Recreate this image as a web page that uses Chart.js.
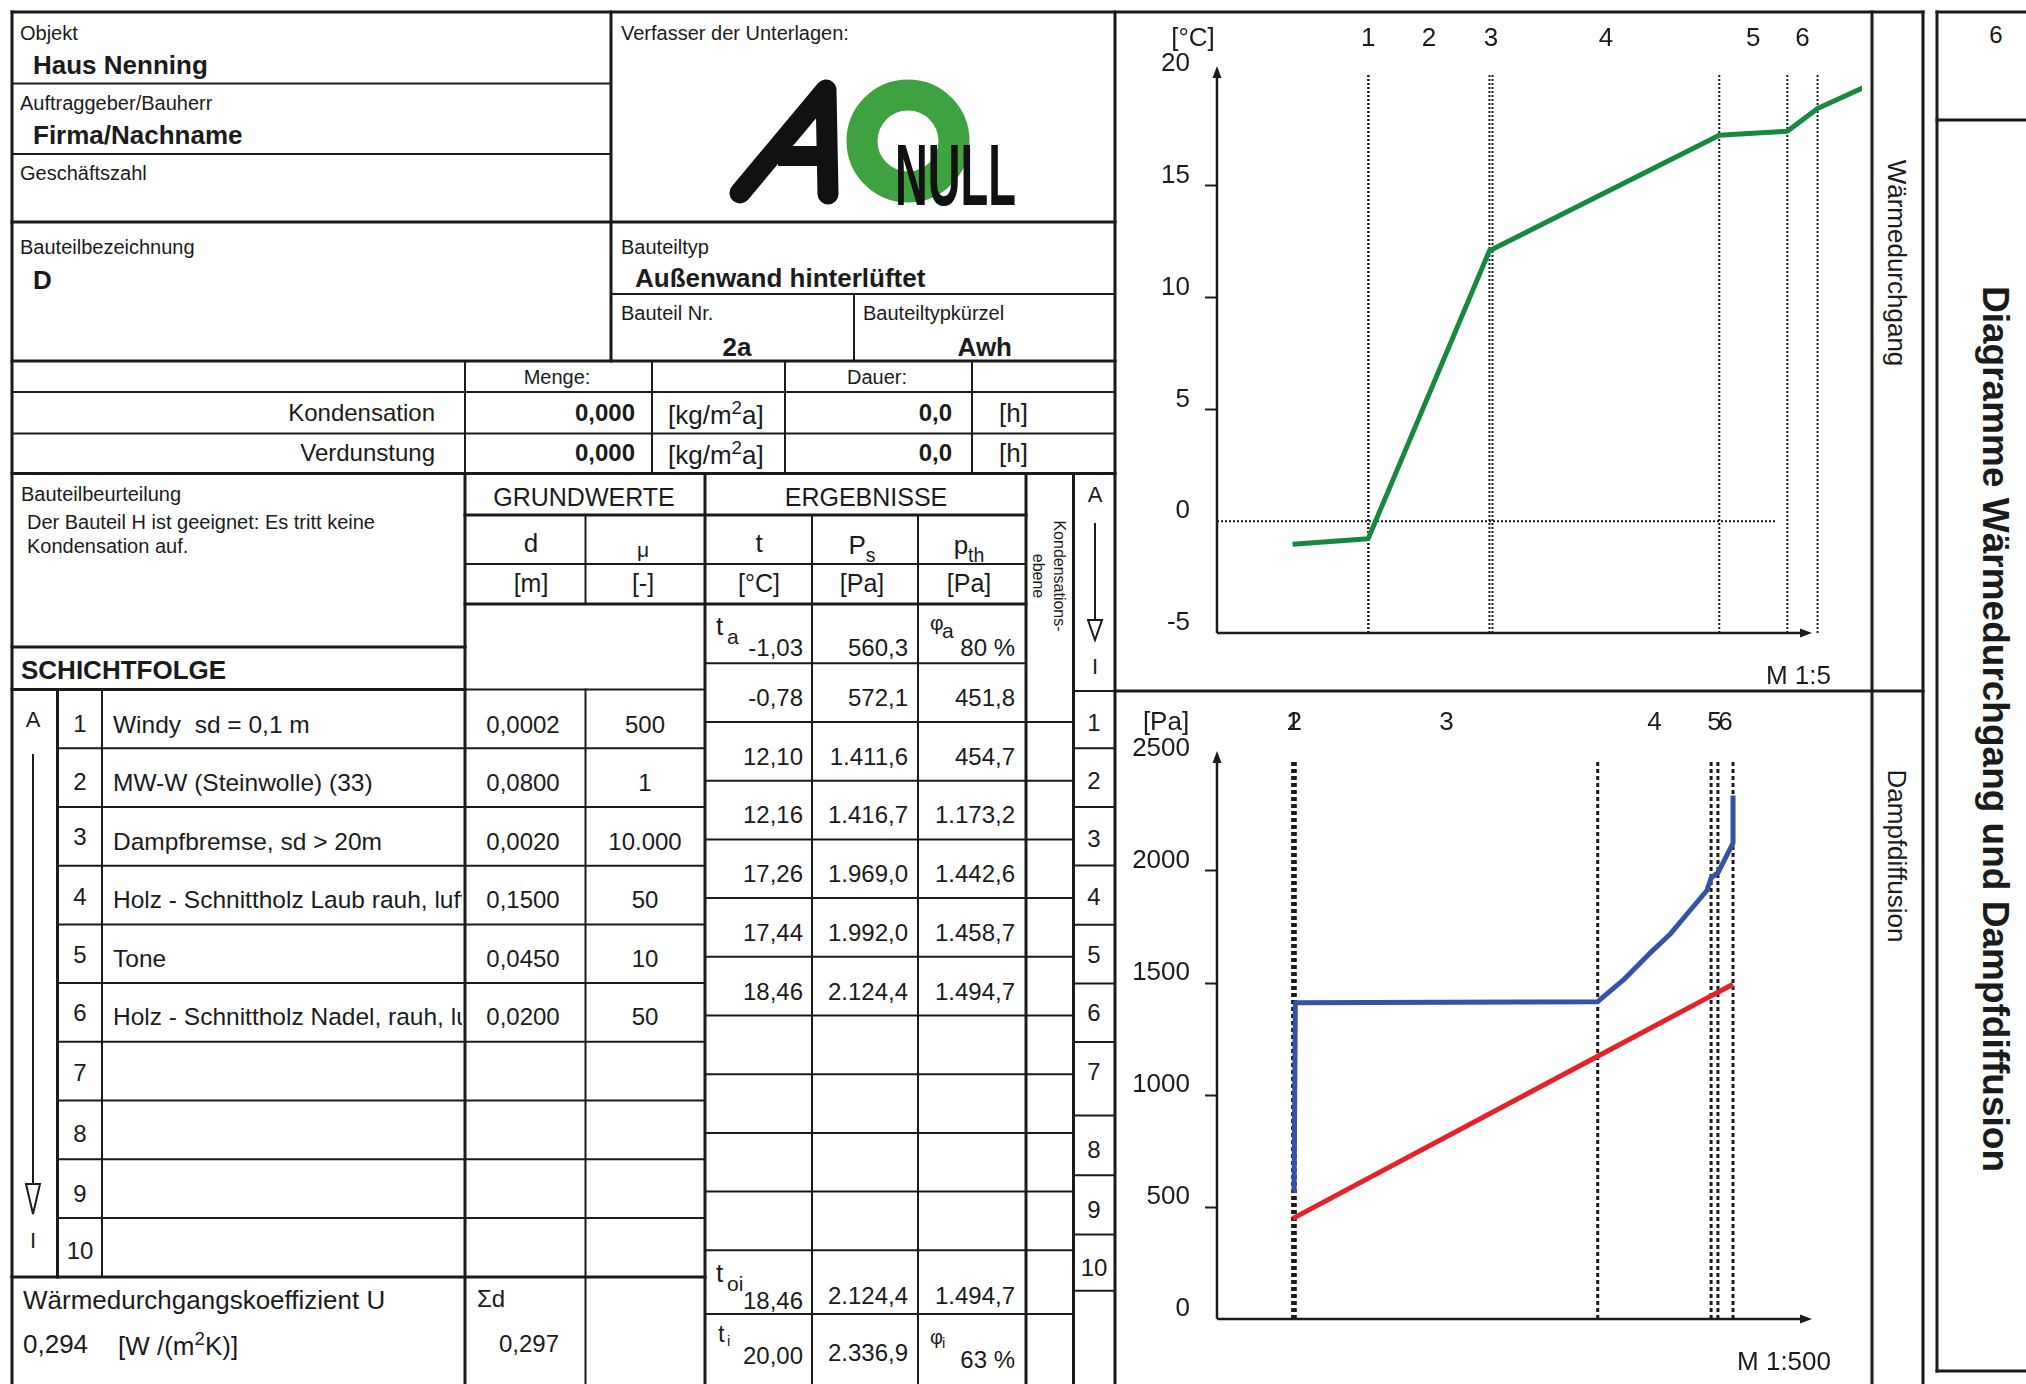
<!DOCTYPE html>
<html>
<head>
<meta charset="utf-8">
<script src="https://cdn.jsdelivr.net/npm/chart.js@4.4.1/dist/chart.umd.min.js"></script>
<style>
  html, body { margin: 0; padding: 0; background: #fff; }
  body { width: 2026px; height: 1384px; position: relative; overflow: hidden;
         font-family: "Liberation Sans", Arial, sans-serif; color: #1b1b1b; }
  .t { position: absolute; white-space: nowrap; line-height: 1; }
  .t sup { font-size: 0.72em; position: relative; top: -0.55em; vertical-align: baseline; }
  canvas { position: absolute; }
  #lines { position: absolute; left: 0; top: 0; }
</style>
</head>
<body>
<svg id="lines" width="2026" height="1384"></svg>
<canvas id="tempChart" width="756" height="678" style="left:1116px;top:13px"></canvas>
<canvas id="vapChart" width="756" height="693" style="left:1116px;top:691px"></canvas>
<script>
// layers, outside -> inside
const layerNo = [1, 2, 3, 4, 5, 6];
const layerName = [
  "Windy&nbsp;&nbsp;sd = 0,1 m",
  "MW-W (Steinwolle) (33)",
  "Dampfbremse, sd &gt; 20m",
  "Holz - Schnittholz Laub rauh, lufttrocken",
  "Tone",
  "Holz - Schnittholz Nadel, rauh, lufttrocken"
];
const layerD = [0.0002, 0.0800, 0.0020, 0.1500, 0.0450, 0.0200];   // [m]
const layerMu = [500, 1, 10000, 50, 10, 50];                       // [-]

// results at the layer ends
const tRow = [-0.78, 12.10, 12.16, 17.26, 17.44, 18.46];            // [°C]
const psRow = [572.1, 1411.6, 1416.7, 1969.0, 1992.0, 2124.4];      // [Pa]
const pthRow = [451.8, 454.7, 1173.2, 1442.6, 1458.7, 1494.7];      // [Pa]

// air outside / inside
const tA = -1.03, psA = 560.3, phiA = 80, pA = 448.2;
const tOi = 18.46, psOi = 2124.4, pthOi = 1494.7;
const tI = 20.00, psI = 2336.9, phiI = 63;
const uValue = 0.294, sumD = 0.297;

// saturation curve inside layer 4 (sd [m], Ps [Pa])
const psCurveSd = [21.9, 23.6, 25.0, 26.2, 27.4];
const psCurvePa = [1515, 1631, 1720, 1817, 1913];

const airLayer = 0.05;      // drawn width of the air layers in the temperature plot [m]
const zeroLineEnd = 0.27;   // dotted 0 °C line ends here [m]

const ink = "#1b1b1b";
const green = "#16883f", blue = "#3553a6", red = "#e5222b";
Chart.defaults.font.family = '"Liberation Sans", Arial, sans-serif';

function de(v, dec) {
  const s = Math.abs(v).toFixed(dec).split(".");
  s[0] = s[0].replace(/\B(?=(\d{3})+(?!\d))/g, ".");
  return (v < 0 ? "-" : "") + s.join(",");
}

// ---------- form lines ----------
const L = [];
const h = (x1, x2, y, w = 2) => L.push([x1, y, x2, y, w]);
const v = (x, y1, y2, w = 2) => L.push([x, y1, x, y2, w]);

h(12, 1923, 12, 3); v(12, 12, 1384, 3); v(611, 12, 361, 3); v(1115, 12, 1384, 3);
h(12, 611, 83.5); h(12, 611, 154); h(12, 1115, 222, 3); h(611, 1115, 294); v(854, 294, 361);
h(12, 1115, 361, 3); h(12, 1115, 392); h(12, 1115, 433.5); h(12, 1115, 473.5, 3);
v(465, 361, 473.5); v(652, 361, 473.5); v(785, 361, 473.5); v(972, 361, 473.5);
v(465, 473.5, 1384, 3); h(12, 465, 647, 3); h(12, 465, 689.5, 3);
v(57.5, 689.5, 1277, 3); v(102, 689.5, 1277);
for (let k = 1; k <= 9; k++) h(57.5, 705, 689.5 + k * 58.72);
h(12, 705, 1277, 3);
v(585.5, 515, 604); v(585.5, 689.5, 1384); v(705, 473.5, 1384, 3);
h(465, 1026, 515, 3); h(465, 1026, 564); h(465, 1026, 604, 3); h(465, 705, 689.5);
v(812, 515, 1384); v(918, 515, 1384); v(1026, 473.5, 1384, 3); v(1073.5, 473.5, 1384, 3);
h(705, 1026, 663.3);
for (let k = 1; k <= 10; k++) h(705, 1073.5, 663.3 + k * 58.7);
h(705, 1073.5, 1314);
h(1073.5, 1115, 691);
[748.3, 807, 865.4, 924.7, 983.5, 1042, 1115.6, 1175.3, 1234.6, 1290.7].forEach(y => h(1073.5, 1115, y));
h(1115, 1923, 691, 3); v(1872, 12, 1384, 3); v(1923, 12, 1384, 3);
v(1937, 12, 1371, 3); h(1937, 2030, 12, 3); h(1937, 2030, 120, 3); h(1937, 2030, 1371, 3);

let svg = L.map(([x1, y1, x2, y2, w]) =>
  `<line x1="${x1}" y1="${y1}" x2="${x2}" y2="${y2}" stroke="${ink}" stroke-width="${w}" stroke-linecap="square"/>`).join("");
// direction arrows A -> I
svg += `<line x1="33" y1="754" x2="33" y2="1184" stroke="${ink}" stroke-width="2"/>
<polygon points="26,1184 40,1184 33,1214" fill="#fff" stroke="${ink}" stroke-width="2"/>
<line x1="1095" y1="523" x2="1095" y2="620" stroke="${ink}" stroke-width="2"/>
<polygon points="1088,620 1102,620 1095,640" fill="#fff" stroke="${ink}" stroke-width="2"/>`;
// logo
svg += `<circle cx="908" cy="141" r="46" fill="none" stroke="#3da23f" stroke-width="31"/>
<polyline points="740,193 826,90 828,194" fill="none" stroke="#111" stroke-width="21" stroke-linecap="round" stroke-linejoin="round"/>
<line x1="778" y1="156" x2="828" y2="156" stroke="#111" stroke-width="20"/>
<text x="895" y="205" font-family="Liberation Sans, Arial" font-weight="bold" font-size="88" textLength="121" lengthAdjust="spacingAndGlyphs" fill="#111">NULL</text>`;
document.getElementById("lines").innerHTML = svg;

// ---------- form texts ----------
function txt(s, x, y, size, o = {}) {
  const d = document.createElement("div");
  d.className = "t";
  const ax = o.a === "r" ? "-100%" : o.a === "c" ? "-50%" : "0";
  d.style.cssText = `left:${x}px;top:${y}px;font-size:${size}px;font-weight:${o.b ? "bold" : "normal"};` +
    `transform:translate(${ax},-50%);` + (o.css || "");
  d.innerHTML = s;
  document.body.appendChild(d);
}
function rot(s, cx, cy, size, o = {}) {
  const d = document.createElement("div");
  d.className = "t";
  d.style.cssText = `left:${cx}px;top:${cy}px;font-size:${size}px;font-weight:${o.b ? "bold" : "normal"};` +
    `transform:translate(-50%,-50%) rotate(90deg);text-align:center;` + (o.css || "");
  d.innerHTML = s;
  document.body.appendChild(d);
}

txt("Objekt", 20, 33, 20);
txt("Haus Nenning", 33, 65, 26, { b: 1 });
txt("Auftraggeber/Bauherr", 20, 103, 20);
txt("Firma/Nachname", 33, 135, 26, { b: 1 });
txt("Geschäftszahl", 20, 173, 20);
txt("Bauteilbezeichnung", 20, 247, 20);
txt("D", 33, 280, 26, { b: 1 });
txt("Verfasser der Unterlagen:", 621, 33, 20);
txt("Bauteiltyp", 621, 247, 20);
txt("Außenwand hinterlüftet", 635, 278, 26, { b: 1 });
txt("Bauteil Nr.", 621, 313, 20);
txt("2a", 737, 347, 26, { b: 1, a: "c" });
txt("Bauteiltypkürzel", 863, 313, 20);
txt("Awh", 1012, 347, 26, { b: 1, a: "r" });

txt("Menge:", 557, 377, 20, { a: "c" });
txt("Dauer:", 877, 377, 20, { a: "c" });
[["Kondensation", 413], ["Verdunstung", 453]].forEach(([s, y]) => {
  txt(s, 435, y, 24, { a: "r" });
  txt(de(0, 3), 635, y, 24, { a: "r", b: 1 });
  txt("[kg/m<sup>2</sup>a]", 668, y + 2, 26);
  txt(de(0, 1), 952, y, 24, { a: "r", b: 1 });
  txt("[h]", 999, y, 26);
});

txt("Bauteilbeurteilung", 21, 494, 20);
txt("Der Bauteil H ist geeignet: Es tritt keine", 27, 522, 20);
txt("Kondensation auf.", 27, 546, 20);
txt("SCHICHTFOLGE", 21, 670, 26, { b: 1 });

txt("GRUNDWERTE", 584, 497, 25, { a: "c" });
txt("ERGEBNISSE", 866, 497, 25, { a: "c" });
txt("d", 531, 543, 26, { a: "c" });
txt("μ", 643, 549, 21, { a: "c" });
txt("t", 759, 543, 26, { a: "c" });
txt("P<span style='font-size:0.75em;position:relative;top:0.4em'>s</span>", 862, 545, 26, { a: "c" });
txt("p<span style='font-size:0.75em;position:relative;top:0.4em'>th</span>", 969, 545, 26, { a: "c" });
txt("[m]", 531, 583, 25, { a: "c" });
txt("[-]", 643, 583, 25, { a: "c" });
txt("[°C]", 759, 583, 25, { a: "c" });
txt("[Pa]", 862, 583, 25, { a: "c" });
txt("[Pa]", 969, 583, 25, { a: "c" });
rot("Kondensations-<br>ebene", 1049, 576, 16, { css: "line-height:21px;" });

// outside air row
txt("t", 716, 626, 26); txt("a", 727, 636, 21);
txt(de(tA, 2), 803, 648, 24, { a: "r" });
txt(de(psA, 1), 908, 648, 24, { a: "r" });
txt("φ", 930, 622, 21); txt("a", 942, 630, 21);
txt(phiA + " %", 1015, 648, 24, { a: "r" });

// boundary rows
tRow.forEach((t, i) => {
  const y = 698 + i * 58.7;
  txt(de(t, 2), 803, y, 24, { a: "r" });
  txt(de(psRow[i], 1), 908, y, 24, { a: "r" });
  txt(de(pthRow[i], 1), 1015, y, 24, { a: "r" });
});
txt("t", 716, 1273, 26); txt("oi", 727, 1283, 21);
txt(de(tOi, 2), 803, 1301, 24, { a: "r" });
txt(de(psOi, 1), 908, 1296, 24, { a: "r" });
txt(de(pthOi, 1), 1015, 1296, 24, { a: "r" });
txt("t", 718, 1334, 24); txt("i", 727, 1340, 15);
txt(de(tI, 2), 803, 1356, 24, { a: "r" });
txt(de(psI, 1), 908, 1353, 24, { a: "r" });
txt("φ", 930, 1337, 20); txt("i", 942, 1342, 15);
txt(phiI + " %", 1015, 1360, 24, { a: "r" });

// layer table
txt("A", 33, 720, 22, { a: "c" });
txt("I", 33, 1241, 22, { a: "c" });
[723.6, 782.4, 837.2, 896.9, 955.3, 1013.2, 1072.9, 1133.5, 1194.1, 1251.2].forEach((y, i) =>
  txt(String(i + 1), 80, y, 24, { a: "c" }));
layerName.forEach((s, i) => {
  const y = 725 + i * 58.4;
  txt(s, 113, y, 24.5, { css: "width:349px;overflow:hidden;" });
  txt(de(layerD[i], 4), 523, y, 24, { a: "c" });
  txt(de(layerMu[i], 0), 645, y, 24, { a: "c" });
});
txt("Wärmedurchgangskoeffizient U", 23, 1300, 26);
txt(de(uValue, 3), 23, 1344, 26);
txt("[W /(m<sup>2</sup>K)]", 118, 1346, 26);
txt("Σd", 477, 1299, 24);
txt(de(sumD, 3), 559, 1344, 24, { a: "r" });

// right column
txt("A", 1095, 495, 22, { a: "c" });
txt("I", 1095, 667, 22, { a: "c" });
[722.7, 781, 839, 897, 955, 1013, 1072, 1150, 1210, 1268].forEach((y, i) =>
  txt(String(i + 1), 1094, y, 24, { a: "c" }));

// side titles
rot("Wärmedurchgang", 1897, 263, 26);
rot("Dampfdiffusion", 1897, 856, 26);
txt("6", 1996, 35, 24, { a: "c" });
rot("Diagramme Wärmedurchgang und Dampfdiffusion", 1995, 729, 37, { b: 1 });

// ---------- chart positions from the layer data ----------
const xd = [0];
layerD.forEach(d => xd.push(xd[xd.length - 1] + d));
const sd = layerD.map((d, i) => d * layerMu[i]);
const xs = [0];
sd.forEach(s => xs.push(xs[xs.length - 1] + s));
const mid = arr => layerNo.map((n, i) => (arr[i] + arr[i + 1]) / 2);

const tempPts = [{ x: -airLayer, y: tA }, { x: xd[0], y: tRow[0] }]
  .concat(xd.slice(1).map((x, i) => ({ x, y: tRow[i] })))
  .concat([{ x: xd[6] + airLayer, y: tI }]);

const pthPts = [{ x: xs[0], y: pA }].concat(xs.slice(1).map((x, i) => ({ x, y: pthRow[i] })));
const psPts = [
  { x: xs[0], y: psRow[0] }, { x: xs[1], y: psRow[0] }, { x: xs[2], y: psRow[1] }, { x: xs[3], y: psRow[2] },
  ...psCurveSd.map((x, i) => ({ x, y: psCurvePa[i] })),
  { x: xs[4], y: psRow[3] }, { x: xs[5], y: psRow[4] }, { x: xs[6], y: psRow[5] }, { x: xs[6], y: psI }
];

function series(data, color, width, extra = {}) {
  return Object.assign({ data, showLine: true, borderColor: color, borderWidth: width,
    pointRadius: 0, pointHoverRadius: 0, fill: false, tension: 0, order: 0,
    borderJoinStyle: "round" }, extra);
}
function dotted(data, width, dash) {
  return series(data, ink, width, { borderDash: dash, order: 1, borderCapStyle: "butt" });
}

function framePlugin(cfg) {
  return {
    id: "frame",
    afterDraw(chart) {
      const { ctx, chartArea: a, scales: { x } } = chart;
      const xEnd = a.left + 595, yTop = a.top - 8;
      ctx.save();
      ctx.strokeStyle = ink; ctx.fillStyle = ink; ctx.lineWidth = 2.5;
      ctx.beginPath();
      ctx.moveTo(a.left, a.bottom); ctx.lineTo(a.left, yTop + 8);
      ctx.moveTo(a.left, a.bottom); ctx.lineTo(xEnd - 8, a.bottom);
      ctx.stroke();
      ctx.beginPath(); ctx.moveTo(a.left, yTop); ctx.lineTo(a.left - 4.5, yTop + 12); ctx.lineTo(a.left + 4.5, yTop + 12); ctx.fill();
      ctx.beginPath(); ctx.moveTo(xEnd, a.bottom); ctx.lineTo(xEnd - 12, a.bottom - 4.5); ctx.lineTo(xEnd - 12, a.bottom + 4.5); ctx.fill();
      ctx.font = '26px "Liberation Sans", Arial, sans-serif';
      ctx.textBaseline = "middle";
      ctx.textAlign = "center";
      cfg.centers.forEach((c, i) => ctx.fillText(String(layerNo[i]), x.getPixelForValue(c), cfg.labelY));
      ctx.fillText(cfg.unit, cfg.unitX, cfg.labelY);
      ctx.textAlign = "right";
      ctx.fillText(cfg.scaleText, a.left + 614, cfg.scaleY);
      ctx.restore();
    }
  };
}

function yAxis(min, max, step, marked) {
  return {
    min, max,
    afterFit: s => { s.width = 101; },
    border: { display: false },
    grid: { drawOnChartArea: false, drawTicks: true, tickLength: 12, tickWidth: 2,
            tickColor: c => marked.includes(c.tick.value) ? ink : "rgba(0,0,0,0)" },
    ticks: { stepSize: step, padding: 15, labelOffset: -10, color: ink,
             font: { size: 26 }, callback: val => String(val) }
  };
}

const common = {
  responsive: false, animation: false, events: [],
  plugins: { legend: { display: false }, tooltip: { enabled: false } }
};

new Chart(document.getElementById("tempChart"), {
  type: "scatter",
  data: {
    datasets: [
      series(tempPts, green, 5),
      dotted([{ x: -0.1, y: 0 }, { x: zeroLineEnd, y: 0 }], 2, [2, 2]),
      ...xd.map(x => dotted([{ x, y: -5 }, { x, y: 20 }], 2, [2, 2]))
    ]
  },
  options: Object.assign({}, common, {
    layout: { padding: { top: 61, bottom: 58, right: 10, left: 0 } },
    scales: {
      x: { type: "linear", min: -0.1, max: 0.3266, display: false },
      y: yAxis(-5, 20, 5, [5, 10, 15])
    }
  }),
  plugins: [framePlugin({ centers: mid(xd), labelY: 26, unit: "[°C]", unitX: 77, scaleText: "M 1:5", scaleY: 664 })]
});

new Chart(document.getElementById("vapChart"), {
  type: "scatter",
  data: {
    datasets: [
      series(pthPts, red, 5),
      series(psPts, blue, 5),
      ...xs.map(x => dotted([{ x, y: 0 }, { x, y: 2500 }], 3, [4, 3]))
    ]
  },
  options: Object.assign({}, common, {
    layout: { padding: { top: 68, bottom: 65, right: 10, left: 0 } },
    scales: {
      x: { type: "linear", min: -5, max: 37.66, display: false },
      y: yAxis(0, 2500, 500, [500, 1000, 1500, 2000])
    }
  }),
  plugins: [framePlugin({ centers: mid(xs), labelY: 32, unit: "[Pa]", unitX: 50, scaleText: "M 1:500", scaleY: 672 })]
});
</script>
</body>
</html>
